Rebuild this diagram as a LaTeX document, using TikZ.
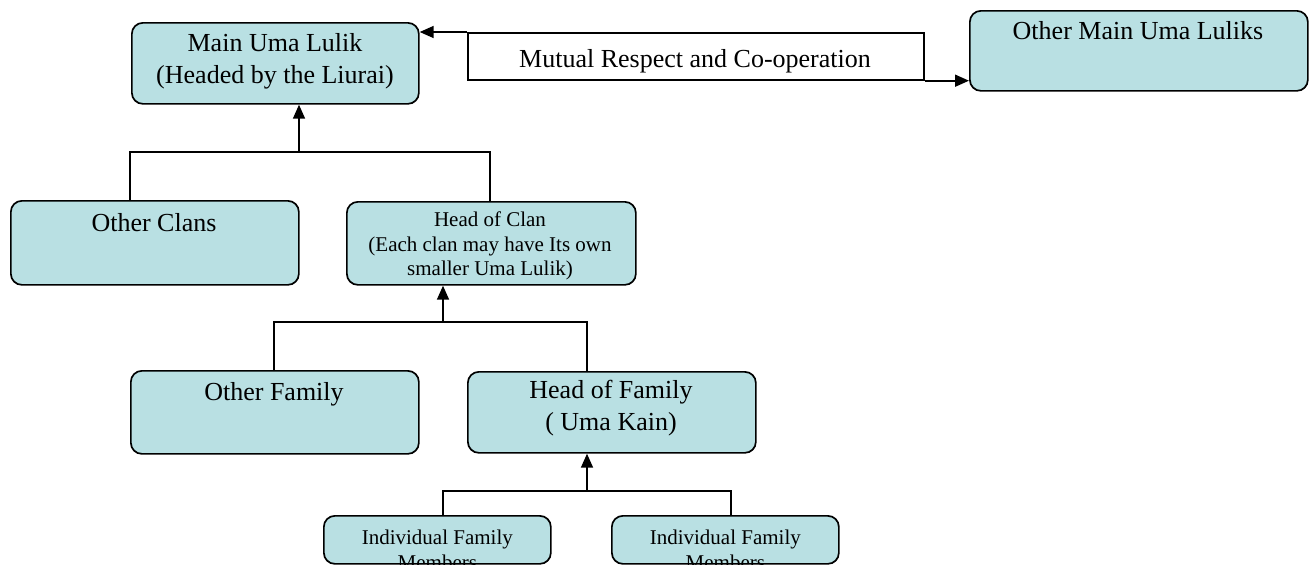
\documentclass[tikz,border=0pt]{standalone}
\usepackage{fontspec}
\setmainfont{Liberation Serif}
\usetikzlibrary{arrows.meta,calc}
\definecolor{boxfill}{RGB}{185,224,227}
\tikzset{
  box/.style={draw=black, line width=1.7pt, fill=boxfill, rounded corners=11pt, inner sep=0pt, anchor=north west},
  plainbox/.style={draw=black, line width=1.7pt, fill=white, inner sep=0pt, anchor=north west},
  big/.style={font=\fontsize{26}{32}\selectfont, inner sep=0pt, align=center},
  small/.style={font=\fontsize{21}{24.5}\selectfont, inner sep=0pt, align=center},
  conn/.style={line width=1.7pt, draw=black},
  arr/.style={conn, -{Triangle[length=14pt,width=12pt]}}
}
\begin{document}
\begin{tikzpicture}[x=1pt,y=-1pt]
\useasboundingbox (0,0) rectangle (1315,565);
% boxes
\node[box, minimum width=287pt, minimum height=81pt] (main) at (131,22) {};
\node[box, minimum width=338pt, minimum height=80pt] (other) at (969,10) {};
\node[plainbox, minimum width=456pt, minimum height=47pt] (mut) at (467,32) {};
\node[box, minimum width=288pt, minimum height=84pt] (oc) at (10,200) {};
\node[box, minimum width=289pt, minimum height=83pt] (hc) at (346,201) {};
\node[box, minimum width=288pt, minimum height=83pt] (of) at (130,370) {};
\node[box, minimum width=288pt, minimum height=81pt] (hf) at (467,371) {};
\node[box, minimum width=227pt, minimum height=48pt] (ia) at (323,515) {};
\node[box, minimum width=227pt, minimum height=48pt] (ib) at (611,515) {};
% texts
\node[big, anchor=north] (tmain) at (275,33) {Main Uma Lulik\\(Headed by the Liurai)};
\node[big, anchor=north] (tother) at (1138,21) {Other Main Uma Luliks};
\node[big, anchor=base] (tmut) at (695,67) {Mutual Respect and Co-operation};
\node[big, anchor=base] (toc) at (154,231) {Other Clans};
\node[small, anchor=north] (thc) at (490,212) {Head of Clan\\(Each clan may have Its own\\smaller Uma Lulik)};
\node[big, anchor=base] (tof) at (274,400) {Other Family};
\node[big, anchor=north] (thf) at (611,380) {Head of Family\\( Uma Kain)};
\begin{scope}
\clip[rounded corners=11pt] (ia.north west) rectangle (ia.south east);
\node[small, anchor=north] (tia) at (ia.north |- 0,530) {Individual Family\\Members};
\end{scope}
\begin{scope}
\clip[rounded corners=11pt] (ib.north west) rectangle (ib.south east);
\node[small, anchor=north] (tib) at (ib.north |- 0,530) {Individual Family\\Members};
\end{scope}
% connectors: top
\draw[arr] (mut.north west) -- (mut.north west -| main.east);
\draw[arr] (mut.south east) -- (mut.south east -| other.west);
% level 1
\coordinate (j1) at (299,152);
\draw[conn] (oc.north -| 130,0) |- (j1) -| (hc.north -| 490,0);
\draw[arr] (j1) -- (main.south -| j1);
% level 2
\coordinate (j2) at (443,322);
\draw[conn] (of.north -| 274,0) |- (j2) -| (hf.north -| 587,0);
\draw[arr] (j2) -- (hc.south -| j2);
% level 3
\coordinate (j3) at (587,491);
\draw[conn] (ia.north -| 443,0) |- (j3) -| (ib.north -| 731,0);
\draw[arr] (j3) -- (hf.south -| j3);
\end{tikzpicture}
\end{document}
